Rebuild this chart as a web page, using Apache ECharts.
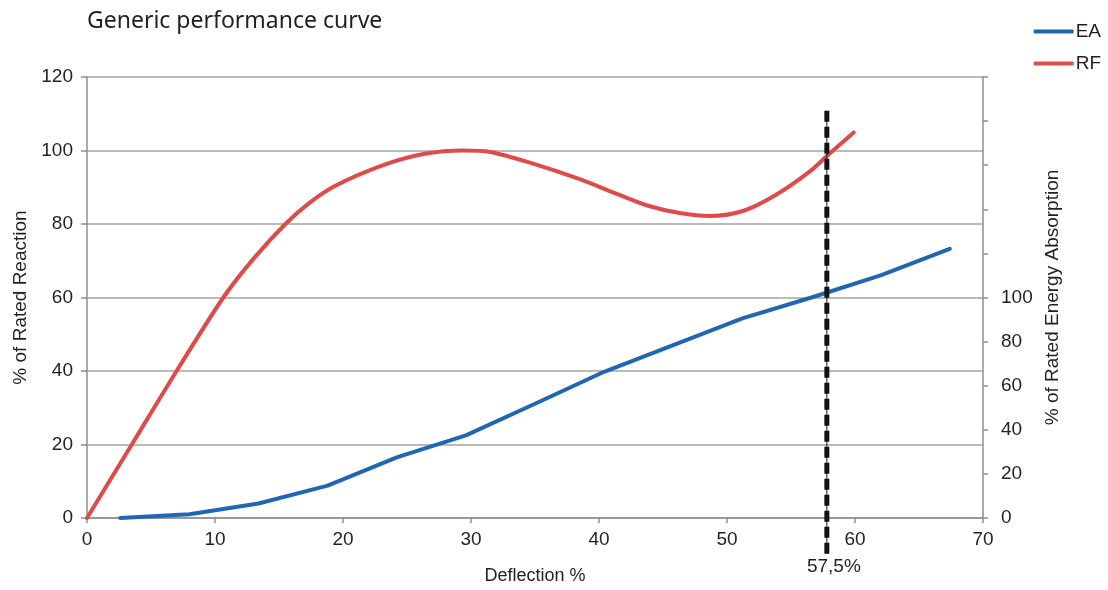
<!DOCTYPE html>
<html>
<head>
<meta charset="utf-8">
<script src="https://cdn.jsdelivr.net/npm/echarts@6/dist/echarts.min.js"></script>
<style>
html,body{margin:0;padding:0;background:#fff;}
#chart{width:1108px;height:590px;}
</style>
</head>
<body>
<div id="chart"></div>
<script>
// Deflection % (x) and % of rated reaction (left axis) for RF
const rfDeflection = [0, 3.5, 7, 10.65, 13, 15.5, 17.4, 19.4, 23.3, 26.4, 29.4, 31.5, 34.6, 38.5, 41.1, 43.7, 46.3, 48.7, 51.3, 53.9, 56.5, 57.8, 59.9];
const rfReaction   = [0, 20, 40, 60, 70.5, 80, 85.8, 90.4, 96.2, 99.1, 100, 99.6, 96.7, 92.2, 88.6, 85.1, 83.0, 82.2, 83.6, 88.1, 94.4, 98.5, 104.9];
// Deflection % (x) and % of rated energy absorption (right axis) for EA
const eaDeflection = [2.6, 8.0, 13.4, 18.8, 24.2, 29.6, 35.0, 40.4, 45.8, 51.2, 56.6, 62.0, 67.4];
const eaEnergy     = [0, 1.7, 6.6, 14.7, 27.5, 37.5, 51.8, 66.3, 78.4, 90.5, 100.0, 110.0, 122.1];
// Reference deflection marker (vertical dashed line), extends beyond plot
const markerX = 57.8;
const markerTop = 110.8;
const markerBottom = -9.7;
const markerLabel = '57,5%';

const xTicks = [0, 10, 20, 30, 40, 50, 60, 70];
const leftTicks = [0, 20, 40, 60, 80, 100, 120];
const rightLabelMax = 100;

const FONT = 'Liberation Sans';
const TITLE_FONT = 'Noto Sans';
const TXT = '#231f20';
const GRID = '#a3a3a3';
const AXIS = '#8f8f8f';
const BLUE = '#1f67b4';
const RED = '#e04a48';

const chart = echarts.init(document.getElementById('chart'));
const zip = (a, b) => a.map((v, i) => [v, b[i]]);

chart.setOption({
  animation: false,
  textStyle: { fontFamily: FONT, color: TXT },
  title: {
    text: 'Generic performance curve',
    left: 82, top: 5,
    textStyle: { fontFamily: TITLE_FONT, fontSize: 23, fontWeight: 'normal', color: TXT }
  },
  legend: {
    data: ['EA', 'RF'],
    orient: 'vertical',
    right: 2, top: 17,
    itemWidth: 40, itemHeight: 4, itemGap: 13,
    icon: 'roundRect',
    textStyle: { fontFamily: FONT, fontSize: 19, color: TXT, padding: [0, 0, 0, -3] }
  },
  grid: { left: 87, right: 125, top: 77, bottom: 69, containLabel: false },
  xAxis: {
    type: 'value', min: xTicks[0], max: xTicks[xTicks.length - 1], interval: 10,
    name: 'Deflection %', nameLocation: 'middle', nameGap: 49,
    nameTextStyle: { fontFamily: FONT, fontSize: 18, color: TXT },
    axisLine: { show: true, lineStyle: { color: AXIS, width: 1.5 } },
    axisTick: { show: true, length: 5, lineStyle: { color: AXIS, width: 1.5 } },
    axisLabel: { fontFamily: FONT, fontSize: 19, color: TXT, margin: 12 },
    splitLine: { show: false }
  },
  yAxis: [
    {
      type: 'value', min: leftTicks[0], max: leftTicks[leftTicks.length - 1], interval: 20,
      name: '% of Rated Reaction', nameLocation: 'middle', nameGap: 57, nameRotate: 90,
      nameTextStyle: { fontFamily: FONT, fontSize: 19, color: TXT },
      axisLine: { show: true, lineStyle: { color: AXIS, width: 1.5 } },
      axisTick: { show: true, length: 6, lineStyle: { color: AXIS, width: 1.5 } },
      axisLabel: { fontFamily: FONT, fontSize: 19, color: TXT, margin: 14 },
      splitLine: { show: true, lineStyle: { color: GRID, width: 1.5 } }
    },
    {
      type: 'value', min: 0, max: 200, interval: 20, position: 'right',
      name: '% of Rated Energy Absorption', nameLocation: 'middle', nameGap: 57, nameRotate: 90,
      nameTextStyle: { fontFamily: FONT, fontSize: 19, color: TXT },
      axisLine: { show: true, lineStyle: { color: AXIS, width: 1.5 } },
      axisTick: { show: true, length: 5, lineStyle: { color: AXIS, width: 1.5 } },
      axisLabel: {
        fontFamily: FONT, fontSize: 19, color: TXT, margin: 18, align: 'left',
        formatter: v => (v <= rightLabelMax ? String(v) : '')
      },
      splitLine: { show: false }
    }
  ],
  series: [
    {
      name: 'EA', type: 'line', yAxisIndex: 1,
      data: zip(eaDeflection, eaEnergy),
      showSymbol: false, symbol: 'none', smooth: false,
      lineStyle: { color: BLUE, width: 4, cap: 'round' },
      itemStyle: { color: BLUE }, z: 3
    },
    {
      name: 'RF', type: 'line', yAxisIndex: 0,
      data: zip(rfDeflection, rfReaction),
      showSymbol: false, symbol: 'none', smooth: 0.3,
      lineStyle: { color: RED, width: 4, cap: 'round' },
      itemStyle: { color: RED }, z: 3
    },
    {
      name: 'marker-thin', type: 'line', yAxisIndex: 0, clip: false,
      data: [[markerX, markerTop], [markerX, markerBottom]],
      symbol: 'none', lineStyle: { color: '#1a1a1a', width: 1 }, z: 4, silent: true
    },
    {
      name: 'marker-dash', type: 'line', yAxisIndex: 0, clip: false,
      data: [[markerX, markerTop], [markerX, markerBottom]],
      symbol: 'none',
      lineStyle: { color: '#151213', width: 5, type: [11, 5] }, z: 5, silent: true
    },
    {
      name: 'marker-label', type: 'scatter', yAxisIndex: 0, clip: false,
      data: [{ value: [markerX, markerBottom] }],
      symbolSize: 0.1, itemStyle: { color: TXT, opacity: 1 },
      label: {
        show: true, position: 'bottom', distance: 4, offset: [7, 0],
        formatter: markerLabel, fontFamily: FONT, fontSize: 19, color: TXT,
        opacity: 1, textBorderWidth: 0
      },
      emphasis: { disabled: true },
      z: 6, silent: true
    }
  ]
});
</script>
</body>
</html>
